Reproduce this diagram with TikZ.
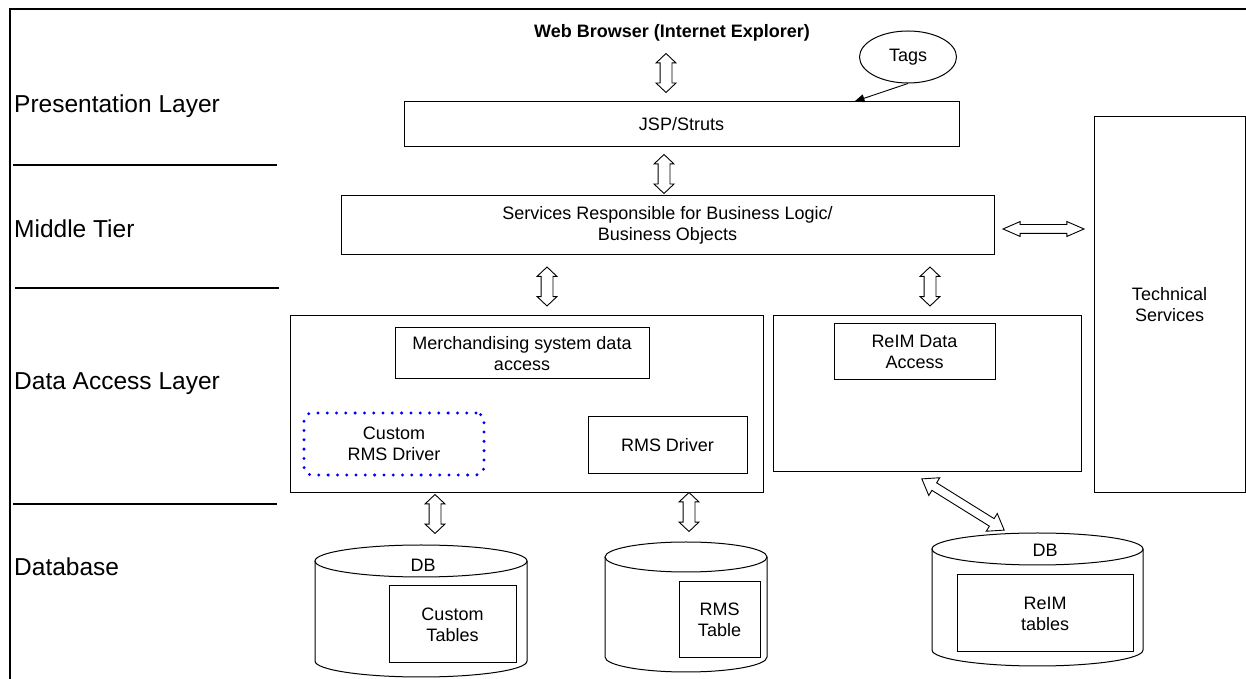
\documentclass[tikz,border=0pt]{standalone}
\usepackage{fontspec}
\setmainfont{Liberation Sans}
\usetikzlibrary{arrows.meta,calc,positioning,shapes.geometric,shapes.arrows}

\begin{document}
\begin{tikzpicture}[x=1pt, y=1pt,
    box/.style={draw, line width=1pt, align=center, inner sep=0pt, font=\fontsize{18}{21}\selectfont},
    layer/.style={anchor=west, inner sep=0pt, font=\fontsize{24.5}{28}\selectfont},
    sepline/.style={line width=2.6pt},
    custbox/.style={box, draw=blue, line width=3.3pt, dash pattern=on 0pt off 9.3pt, line cap=round, rounded corners=8pt},
    fatbase/.style={draw, fill=white, line width=0.9pt, double arrow, inner xsep=0pt},
    vfat/.style={fatbase, inner ysep=5.5pt, minimum height=39pt, double arrow head extend=4pt, double arrow tip angle=93, rotate=90},
    hfat/.style={fatbase, inner ysep=4pt, minimum height=81pt, double arrow head extend=3pt, double arrow tip angle=47},
    dfat/.style={fatbase, inner ysep=4pt, minimum height=97pt, double arrow head extend=6pt, double arrow tip angle=71, rotate=-31.9},
    cyl/.style={line width=1pt}]
    \useasboundingbox (0,0) rectangle (1246,679);

    % Frame and layer names
    \draw[sepline] (10,0) -- (10,670) -- (1246,670);
    \node[layer] (lpres) at (14,573) {Presentation Layer};
    \node[layer] (lmid) at (14,450) {Middle Tier};
    \node[layer] (ldata) at (14,295) {Data Access Layer};
    \node[layer] (ldb) at (14,112) {Database};
    \draw[sepline] (13,514) -- (277,514);
    \draw[sepline] (15,391) -- (279,391);
    \draw[sepline] (13,175) -- (277,175);

    % Presentation
    \node[font=\bfseries\fontsize{18}{21}\selectfont] (web) at (672,646) {Web Browser (Internet Explorer)};
    \node[box, minimum width=555, minimum height=45] (jsp) at (681.5,554.5) {JSP/Struts};
    \node[box, ellipse, minimum width=97, minimum height=52] (tags) at (908,622) {Tags};
    \draw[line width=0.9pt, -{Triangle[length=10pt,width=8pt]}] (tags.south) -- ([xshift=-105pt]jsp.north east);

    % Middle tier
    \node[box, minimum width=653, minimum height=59] (svc) at (667.5,453.5) {Services Responsible for Business Logic/\\Business Objects};
    \node[box, minimum width=151, minimum height=376] (tech) at (1169.5,374) {Technical\\Services};

    % Data access
    \node[box, minimum width=473, minimum height=177] (rmsacc) at (526.5,274.5) {};
    \node[box, minimum width=254, minimum height=51] (merch) at (522,325.5) {Merchandising system data\\access};
    \node[custbox, minimum width=180, minimum height=62] (custdrv) at (394,235) {Custom\\RMS Driver};
    \node[box, minimum width=159, minimum height=57] (rmsdrv) at (667.5,233.5) {RMS Driver};
    \node[box, minimum width=308, minimum height=156] (reimacc) at (927,285) {};
    \node[box, minimum width=161, minimum height=56] (reimda) at (914.5,327) {ReIM Data\\Access};

    % Databases
    \foreach \xc/\rx/\yt/\yb/\ry in {421/106/118/18/16, 686/81/122/22/15, 1037.5/105.5/130/29/16}{
        \draw[cyl] (\xc-\rx,\yt) -- (\xc-\rx,\yb) arc[start angle=180, end angle=360, x radius=\rx, y radius=\ry] -- (\xc+\rx,\yt);
        \draw[cyl] (\xc,\yt) ellipse[x radius=\rx, y radius=\ry];
    }
    \node[font=\fontsize{18}{21}\selectfont] (dbA) at (423,114) {DB};
    \node[font=\fontsize{18}{21}\selectfont] (dbC) at (1045,129) {DB};
    \node[box, minimum width=127, minimum height=77] (custtab) at (452.5,54.5) {Custom\\Tables};
    \node[box, minimum width=81, minimum height=76] (rmstab) at (719.5,59) {RMS\\Table};
    \node[box, minimum width=176, minimum height=77] (reimtab) at (1045,65.5) {ReIM\\tables};

    % Double arrows between layers
    \node[vfat] (fatA) at (666,606) {};
    \node[vfat] (fatB) at (664,505) {};
    \node[vfat] (fatC) at (547,392.5) {};
    \node[vfat] (fatD) at (930,392.5) {};
    \node[vfat] (fatE) at (435,165) {};
    \node[vfat] (fatF) at (689,167) {};
    \node[hfat] (fatG) at (1043.5,450) {};
    \node[dfat] (fatH) at (963,174.5) {};
\end{tikzpicture}
\end{document}
